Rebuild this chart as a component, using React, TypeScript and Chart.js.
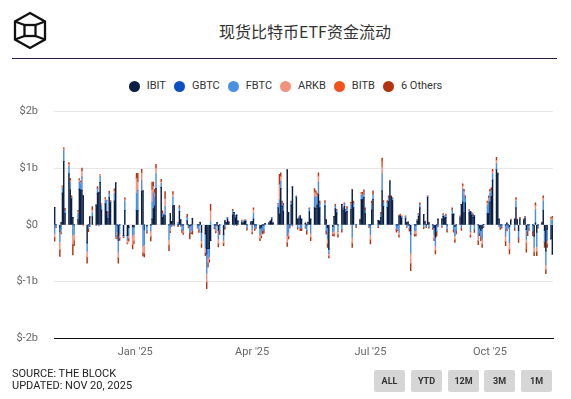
import React, { useEffect, useRef } from "react";
import { Chart, registerables } from "chart.js";

Chart.register(...registerables);

// ---- categories: trading days, grouped by month ----
const MONTHS = ["2024-10", "2024-11", "2024-12", "2025-01", "2025-02", "2025-03", "2025-04", "2025-05", "2025-06", "2025-07", "2025-08", "2025-09", "2025-10", "2025-11"];
const TRADING_DAYS = [
  [31],
  [1, 4, 5, 6, 7, 8, 11, 12, 13, 14, 15, 18, 19, 20, 21, 22, 25, 26, 27, 29],
  [2, 3, 4, 5, 6, 9, 10, 11, 12, 13, 16, 17, 18, 19, 20, 23, 24, 26, 27, 30, 31],
  [2, 3, 6, 7, 8, 10, 13, 14, 15, 16, 17, 21, 22, 23, 24, 27, 28, 29, 30, 31],
  [3, 4, 5, 6, 7, 10, 11, 12, 13, 14, 18, 19, 20, 21, 24, 25, 26, 27, 28],
  [3, 4, 5, 6, 7, 10, 11, 12, 13, 14, 17, 18, 19, 20, 21, 24, 25, 26, 27, 28, 31],
  [1, 2, 3, 4, 7, 8, 9, 10, 11, 14, 15, 16, 17, 21, 22, 23, 24, 25, 28, 29, 30],
  [1, 2, 5, 6, 7, 8, 9, 12, 13, 14, 15, 16, 19, 20, 21, 22, 23, 27, 28, 29, 30],
  [2, 3, 4, 5, 6, 9, 10, 11, 12, 13, 16, 17, 18, 20, 23, 24, 25, 26, 27, 30],
  [1, 2, 3, 7, 8, 9, 10, 11, 14, 15, 16, 17, 18, 21, 22, 23, 24, 25, 28, 29, 30, 31],
  [1, 4, 5, 6, 7, 8, 11, 12, 13, 14, 15, 18, 19, 20, 21, 22, 25, 26, 27, 28, 29],
  [2, 3, 4, 5, 8, 9, 10, 11, 12, 15, 16, 17, 18, 19, 22, 23, 24, 25, 26, 29, 30],
  [1, 2, 3, 6, 7, 8, 9, 10, 13, 14, 15, 16, 17, 20, 21, 22, 23, 24, 27, 28, 29, 30, 31],
  [3, 4, 5, 6, 7, 10, 11, 12, 13, 14, 17, 18],
];

// ---- daily flows, $ millions, grouped by month ----
const IBIT = [
  [310],
  [0, -40, 40, 560, 1120, 200, 900, 620, 460, 130, 0, 90, 630, 620, 610, 510, -320, 0, 140, 140],
  [340, 560, 570, 750, 260, 370, 240, 110, 480, 390, 420, 740, 0, -190, 0, -190, 250, -190, -50, -35, -36],
  [250, 250, 590, 600, 0, -20, 0, 100, 280, 330, 640, 660, 130, 160, 160, 0, 200, 60, 330, 340],
  [0, 240, 90, 0, 0, 70, 0, -20, 0, 115, 0, 0, 40, -130, -160, -420, -420, -420, -280],
  [0, 0, 40, -100, 0, -170, 70, 40, 100, 40, 170, 220, 120, 170, 60, 40, 30, 60, 60, 0, 40],
  [60, 100, 0, 0, -60, -40, 0, 0, 20, 30, 60, 100, 30, 300, 190, 640, 330, 240, 970, 215, 0],
  [350, 670, 480, 100, 100, 160, 100, 30, 0, 40, 230, 100, 300, 290, 350, 530, 300, 330, 90, -50, -430],
  [-30, 150, 280, 210, 0, 360, 250, 320, 220, 240, 270, 620, 300, 0, 80, 440, 450, 480, 200, 0],
  [0, 260, 450, 80, 60, 130, 600, 320, 310, 410, 760, 500, 430, 0, 0, 160, 150, 120, 110, 40, 50, 0],
  [-100, 0, 0, 60, 150, 300, 180, 50, 0, 480, 40, 0, -50, -220, 0, 100, 100, 150, 120, 130, 0],
  [180, 190, -30, 0, 120, 360, 400, 210, 390, 210, 240, 170, 130, 160, 0, -60, -100, -60, 10, 200, 200],
  [400, 500, 790, 970, 900, 100, 0, 0, 0, 30, 0, -30, 80, 100, 300, 80, -100, 100, 80, 110, -80, 0, 0],
  [0, -200, 30, -130, 0, 30, 250, -100, -460, -80, -250, -520],
];
const GBTC = [
  [0],
  [0, -80, 0, 0, 0, 0, 0, 0, 0, 0, 0, 0, 0, 0, 0, 0, 0, 0, 0, 0],
  [0, 0, 0, 0, 0, 0, 0, 0, 0, 0, 0, 0, 0, -90, 0, 0, 0, 0, 0, 0, 0],
  [0, 0, 0, 0, -90, 0, 0, 0, 0, 0, 0, 0, 0, 0, 0, 0, 0, 0, 0, 0],
  [0, 0, 0, 0, 0, 0, 0, 0, 0, 0, 0, 0, 0, 0, 0, -100, 0, 0, 0],
  [0, 0, 0, 0, 0, 0, 0, 0, 0, 0, 0, 0, 0, 0, 0, 0, 0, 0, 0, 0, 0],
  [0, 0, 0, 0, 0, 0, 0, 0, 0, 0, 0, 0, 0, 0, 0, 0, 0, 0, 0, 0, 0],
  [0, 0, 0, 0, 0, 0, 0, 0, 0, 0, 0, 0, 0, 0, 0, 0, 0, 0, 0, 0, 0],
  [0, 0, 0, 0, 0, 0, 0, 0, 0, 0, 0, 0, 0, 0, 0, 0, 0, 0, 0, 0],
  [0, 0, 0, 0, 0, 0, 0, 0, 0, 0, 0, 0, 0, 0, 0, 0, 0, 0, 0, 0, 0, 0],
  [-70, 0, 0, 0, 0, 0, 0, 0, 0, 0, 0, 0, 0, 0, 0, 0, 0, 0, 0, 0, 0],
  [0, 0, 0, 0, 0, 0, 0, 0, 0, 0, 0, 0, 0, 0, 0, 0, 0, 0, 0, 0, 0],
  [0, 0, 0, 0, 0, 0, 0, 0, 0, 0, 0, 0, 0, 0, 0, 0, 0, 0, 0, 0, 0, 0, 0],
  [0, 0, 0, 0, 0, 0, 0, 0, 0, 0, 0, 0],
];
const FBTC = [
  [-150],
  [-30, -180, -90, 90, 190, 50, 130, 120, 20, -180, -160, 110, 120, 110, 240, 0, -140, -70, -20, 70],
  [20, 80, -20, 100, 80, 60, 190, 60, 70, 20, 130, -210, -120, -200, -160, -20, 170, -80, -130, -150, -130],
  [300, 360, 190, -370, -260, -90, -110, 300, 280, 150, 260, 70, 70, 10, 160, -260, -60, -10, 160, -10],
  [40, 60, -20, -80, -100, 60, -30, -120, -90, -100, -40, -90, 0, -150, -250, -340, -160, -140, 50],
  [-40, -80, 0, -150, -100, -100, -40, 0, 30, 0, 80, -11, 40, 0, 20, 30, 0, 20, 20, -60, 20],
  [-90, 100, -60, -40, -120, -100, -100, -90, 0, 10, 0, 30, 0, 50, 250, 130, 50, 90, -190, -130, -30],
  [50, -10, 20, -45, 30, -60, -60, -40, -100, 0, 50, -150, 190, 200, 140, 220, 70, 60, -100, -200, -80],
  [-90, -100, 50, 40, -120, -80, 30, 50, 40, 50, 80, -220, 80, -30, 0, 80, 60, 80, 60, -30],
  [-170, 110, 90, -30, 20, 60, 300, 70, 80, 60, 10, 0, 30, -80, -60, -130, 0, 25, 30, -30, 0, -70],
  [-330, -110, -100, 20, 30, 60, -40, 0, -30, 20, -40, -50, -130, -150, -120, -20, -30, 30, 25, 40, -80],
  [80, -80, -160, -100, 20, -60, 230, 320, 80, 40, -120, 30, 40, -80, -200, -80, -100, -200, -30, 140, 210],
  [150, 110, 110, 110, 10, -20, -50, -30, -200, -70, -40, -280, 10, -60, 120, 0, -130, 20, 0, 25, -180, -110, -60],
  [-110, -200, 240, -250, -40, 0, 170, -200, -240, -190, 80, 90],
];
const ARKB = [
  [-70],
  [0, -140, -40, 20, 30, 0, 40, 40, 0, -160, -110, 40, 40, 20, 100, -20, -110, 0, 0, 50],
  [0, 0, 0, 40, 36, 30, 0, 40, 0, 0, 50, -30, -70, -100, -70, 0, 30, -50, -60, -160, -120],
  [270, 150, 140, -120, -150, 0, -100, 220, 120, 80, 100, 30, 0, 0, 140, -100, -50, 0, 50, 0],
  [0, 0, 0, 0, -40, 0, 0, 0, -40, 0, 0, 0, 0, -60, -80, -150, -90, -50, 200],
  [0, -30, 0, -80, 0, -50, 0, 0, 0, 0, 0, 0, 0, 0, 0, 0, 0, 0, 0, 0, 0],
  [-40, 70, 0, 0, -60, -50, 0, 0, 0, 0, 0, 0, 0, 20, 270, 80, 0, 0, -120, -70, 0],
  [0, 0, 0, 0, 0, 0, 0, 0, 0, 0, 0, -70, 90, 60, 40, 110, 0, 0, 0, -80, -40],
  [-40, -60, 0, 0, -50, 0, 0, 0, 0, 0, 30, -100, 0, 0, 0, 30, 0, 0, 0, 0],
  [-90, 0, 0, 0, 0, 0, 120, 0, 0, 0, 0, 0, 0, 0, -25, -50, 0, 0, 0, 0, 0, 0],
  [-180, -50, -60, 0, 0, 0, 0, 0, 0, 0, 0, 0, -60, -80, 0, 0, 0, 0, 0, 0, 0],
  [0, 0, -70, 0, 0, 0, 60, 60, 0, 0, -60, 0, 0, 0, -80, 0, 0, -80, 0, 50, 60],
  [40, 0, 40, 60, 0, 0, 0, 0, -90, 0, 0, -120, 0, 0, 30, 0, 0, 0, 0, 0, -60, 0, 0],
  [0, -80, 70, -90, 0, 0, 50, 0, -90, -70, 30, 30],
];
const BITB = [
  [0],
  [0, 0, 0, 0, 0, 0, 0, 0, 0, 0, 0, 0, 0, 0, 0, 0, 0, 0, 0, 0],
  [0, 0, 0, 0, 0, 0, 0, 0, 0, 0, 0, 0, 0, 0, 0, 0, 0, 0, 0, 0, 0],
  [0, 0, 0, 0, 0, 0, 0, 0, 0, 0, 0, 0, 0, 0, 0, 0, 0, 0, 0, 0],
  [0, 0, 0, 0, 0, 0, 0, 0, 0, 0, 0, 0, 0, 0, 0, 0, 0, 0, 0],
  [0, 0, 0, 0, 0, 0, 0, 0, 0, 0, 0, 0, 0, 0, 0, 0, 0, 0, 0, 0, 0],
  [0, 0, 0, 0, 0, 0, 0, 0, 0, 0, 0, 0, 0, 0, 0, 0, 0, 0, 0, 0, 0],
  [0, 0, 0, 0, 0, 0, 0, 0, 0, 0, 0, 0, 0, 0, 0, 0, 0, 0, 0, 0, 0],
  [0, 0, 0, 0, 0, 0, 0, 0, 0, 0, 0, 0, 0, 0, 0, 0, 25, 20, 0, 0],
  [0, 0, 0, 0, 0, 0, 110, 0, 0, 0, 0, 0, 0, 0, 0, 0, 25, 0, 0, 0, 0, 0],
  [0, 0, 0, 0, 0, 0, 0, 0, 0, 0, 0, 0, 0, 0, 0, 0, 0, 0, 0, 0, 0],
  [0, 0, 0, 0, 0, 0, 0, 0, 0, 0, 0, 0, 0, 0, 0, 0, 0, 0, 0, 0, 0],
  [0, 0, 0, 0, 0, 0, 0, 0, 0, 0, 0, 0, 0, 0, 0, 0, 0, 0, 0, 0, -110, 0, 0],
  [0, 0, 0, 0, 0, 0, 0, 0, 0, 0, 0, 0],
];
const OTHERS = [
  [-70],
  [-20, -120, -30, 20, 20, 40, 30, 40, 30, -190, -100, 15, 26, 23, 50, 0, -110, -50, -15, 60],
  [-7, 36, 6, 0, 0, 19, 8, 13, 47, 18, 37, -7, -60, -100, -47, -16, 25, -18, -48, -81, -47],
  [89, 148, 58, -58, -68, -39, -74, 135, 73, 66, 70, 42, 49, 18, 129, -98, -31, -17, 48, -11],
  [-35, 40, -4, -60, -31, 56, -26, -111, -27, -65, -20, -45, 10, -60, -55, -120, -80, -50, 110],
  [-34, -33, -18, -60, -70, -50, -35, 0, 0, 20, 24, 0, 0, -5, 0, 14, 0, 9, 9, -33, 0],
  [-30, 30, -40, -24, -40, -40, -60, -60, 0, 0, 16, 0, 10, 10, 180, 70, 40, 50, -70, -50, -26],
  [20, -10, 10, -30, 10, -45, -45, -20, -65, 10, 20, -60, 60, 50, 30, 60, 50, 40, -65, -70, -35],
  [-30, -40, 30, 25, -50, -50, 20, 20, 15, 30, 20, -80, 40, -20, 20, 20, 40, 40, 40, -20],
  [-80, 50, 60, -20, 0, 30, 50, 40, 40, 40, 15, 10, 20, -50, -20, -40, 15, 15, 17, -15, -3, -44],
  [-132, -40, -36, 11, 20, 30, -30, 15, -20, 10, -20, -30, -40, -65, -80, -15, -15, 20, 15, 20, -50],
  [40, -50, -50, -60, 20, -40, 35, 35, 40, 20, -40, 15, 20, -55, -70, -50, -80, -60, -20, 30, 40],
  [35, 45, 40, 50, 10, -10, -30, -30, -80, -40, -20, -85, 10, -40, 30, 20, -80, 10, 20, 15, -55, -80, -40],
  [-80, -65, 50, -75, -20, 20, 40, -100, -75, -60, 20, 30],
];

const SERIES_NAMES = ["IBIT", "GBTC", "FBTC", "ARKB", "BITB", "6 Others"];
const SERIES_COLORS = ["#0a1f45", "#0a4fc4", "#4a90e2", "#f2917c", "#f4511e", "#b3330e"];

const Y_TICKS = [-2000, -1000, 0, 1000, 2000];
const Y_TICK_LABELS = ["$-2b", "$-1b", "$0", "$1b", "$2b"];
const X_TICK_DATES = ["2025-01-01", "2025-04-01", "2025-07-01", "2025-10-01"];
const X_TICK_LABELS = ["Jan '25", "Apr '25", "Jul '25", "Oct '25"];
const X_RANGE = ["2024-10-31", "2025-11-18"];
const BUTTONS = ["ALL", "YTD", "12M", "3M", "1M"];

const dayOf = (s: string) =>
  (Date.parse(s + "T00:00:00Z") - Date.parse("2025-01-01T00:00:00Z")) / 86400000;

const DATES: string[] = MONTHS.flatMap((m, i) =>
  TRADING_DAYS[i].map((d) => `${m}-${String(d).padStart(2, "0")}`)
);

const FONT = "Roboto, 'Noto Sans', sans-serif";

function Logo() {
  return (
    <svg width="40" height="42" viewBox="0 0 40 42" style={{ position: "absolute", left: 10, top: 10 }}>
      <g fill="none" stroke="#111" strokeWidth="2.3" strokeLinejoin="miter">
        <polygon points="20,3 35,11.5 35,29.5 20,38 5,29.5 5,11.5" />
        <rect x="14.5" y="15" width="11" height="11" />
        <line x1="5" y1="11.5" x2="14.5" y2="15" />
        <line x1="35" y1="11.5" x2="25.5" y2="15" />
        <line x1="5" y1="29.5" x2="14.5" y2="26" />
        <line x1="35" y1="29.5" x2="25.5" y2="26" />
      </g>
    </svg>
  );
}

export default function App() {
  const ref = useRef<HTMLCanvasElement | null>(null);

  useEffect(() => {
    if (!ref.current) return;
    const xs = DATES.map(dayOf);
    const series = [IBIT, GBTC, FBTC, ARKB, BITB, OTHERS];
    const tickDays = X_TICK_DATES.map(dayOf);
    const chart = new Chart(ref.current, {
      type: "bar",
      data: {
        datasets: series.map((s, k) => ({
          label: SERIES_NAMES[k],
          data: s.flat().map((v, i) => ({ x: xs[i], y: v })),
          backgroundColor: SERIES_COLORS[k],
          borderWidth: 0,
          barThickness: 0.8,
          stack: "flows",
        })),
      },
      options: {
        responsive: false,
        animation: false,
        events: [],
        layout: { padding: { top: 10, right: 18, left: 0, bottom: 0 } },
        plugins: { legend: { display: false }, tooltip: { enabled: false } },
        scales: {
          x: {
            type: "linear",
            stacked: true,
            offset: false,
            min: dayOf(X_RANGE[0]) - 0.5,
            max: dayOf(X_RANGE[1]) + 0.5,
            grid: { display: false, drawTicks: false },
            border: { display: true, color: "#111", width: 1 },
            afterBuildTicks: (s: any) => {
              s.ticks = tickDays.map((v) => ({ value: v }));
            },
            afterFit: (s: any) => {
              s.height = 32;
            },
            ticks: {
              autoSkip: false,
              maxRotation: 0,
              padding: 8,
              color: "#666",
              font: { family: FONT, size: 11 },
              callback: (v: any) => {
                const i = tickDays.indexOf(Number(v));
                return i >= 0 ? X_TICK_LABELS[i] : "";
              },
            },
          },
          y: {
            stacked: true,
            min: -2000,
            max: 2000,
            afterBuildTicks: (s: any) => {
              s.ticks = Y_TICKS.map((v) => ({ value: v }));
            },
            afterFit: (s: any) => {
              s.width = 54;
            },
            grid: { color: "#e6e6e6", drawTicks: false },
            border: { display: false },
            ticks: {
              padding: 16,
              color: "#666",
              font: { family: FONT, size: 11 },
              callback: (v: any) => {
                const i = Y_TICKS.indexOf(Number(v));
                return i >= 0 ? Y_TICK_LABELS[i] : "";
              },
            },
          },
        },
      } as any,
    });
    return () => chart.destroy();
  }, []);

  return (
    <div
      style={{
        position: "fixed",
        left: 0,
        top: 0,
        width: 571,
        height: 399,
        background: "#fff",
        overflow: "hidden",
        fontFamily: FONT,
      }}
    >
      <Logo />
      <div
        style={{
          position: "absolute",
          left: 205,
          width: 200,
          top: 20,
          lineHeight: "22px",
          textAlign: "center",
          fontSize: 16,
          color: "#333",
          fontFamily: "'Noto Sans CJK SC', Roboto, sans-serif",
          whiteSpace: "nowrap",
        }}
      >
        现货比特币ETF资金流动
      </div>
      <div style={{ position: "absolute", left: 12, top: 58, width: 545, height: 1, background: "#2b1a45" }} />
      <div
        style={{
          position: "absolute",
          left: 0,
          width: 571,
          top: 80,
          height: 12,
          display: "flex",
          justifyContent: "center",
          alignItems: "center",
        }}
      >
        <div style={{ display: "flex", alignItems: "center", marginLeft: 8 }}>
          {SERIES_NAMES.map((n, i) => (
            <div key={n} style={{ display: "flex", alignItems: "center", marginRight: 8 }}>
              <span
                style={{
                  width: 11,
                  height: 11,
                  borderRadius: "50%",
                  background: SERIES_COLORS[i],
                  display: "inline-block",
                  marginRight: 7,
                }}
              />
              <span style={{ fontSize: 11, color: "#333", lineHeight: "12px" }}>{n}</span>
            </div>
          ))}
        </div>
      </div>
      <canvas ref={ref} width={571} height={281} style={{ position: "absolute", left: 0, top: 89, width: 571, height: 281 }} />
      <div style={{ position: "absolute", left: 12, top: 368, fontSize: 11, lineHeight: "12px", color: "#222" }}>
        <div>SOURCE: THE BLOCK</div>
        <div>UPDATED: NOV 20, 2025</div>
      </div>
      {BUTTONS.map((b, i) => (
        <div
          key={b}
          style={{
            position: "absolute",
            left: [374, 411, 448, 484, 521][i],
            top: 370,
            width: 31,
            height: 22,
            background: "#d6d6d6",
            borderRadius: 2,
            fontSize: 9,
            fontWeight: 700,
            color: "#333",
            display: "flex",
            alignItems: "center",
            justifyContent: "center",
          }}
        >
          {b}
        </div>
      ))}
    </div>
  );
}
